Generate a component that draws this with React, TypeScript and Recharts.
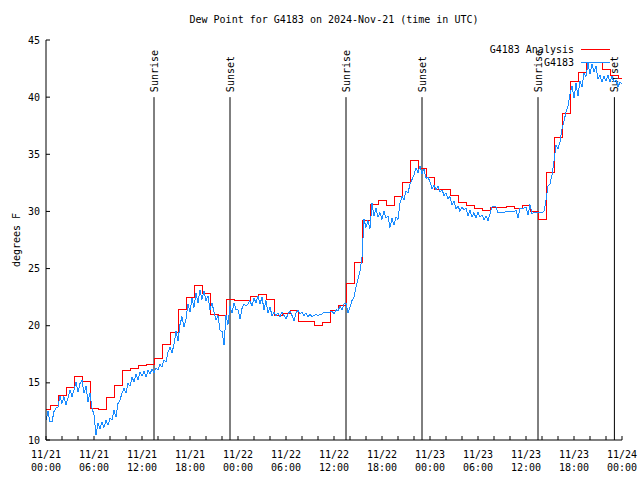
import { Line, LineChart, ReferenceLine, XAxis, YAxis } from "recharts";

// hours since 2024-11-21 00:00 UTC, one blue reading every 15 min
const obs0to12 = [
  11.75, 12.5, 11.6, 11.6, 12.5, 12.8, 12.9, 13.85, 13.2, 13.8, 13.1, 13.65,
  14.4, 13.8, 14.4, 15.1, 14.2, 14.95, 15.25, 14.1, 14.7, 13.35, 14.1, 12.8,
  12.2, 10.4, 11.45, 11.0, 11.6, 11.1, 11.75, 11.3, 11.9, 11.75, 12.6, 12.0,
  13.2, 13.5, 14.1, 14.5, 14.1, 14.95, 14.7, 15.5, 15.1, 15.8, 15.25, 15.98,
];
const obs12to24 = [
  15.6, 16.0, 15.5, 16.1, 15.8, 16.2, 15.9, 16.3, 16.1, 16.6, 16.4, 17.0,
  16.8, 17.7, 18.1, 17.6, 18.4, 19.5, 18.7, 20.1, 20.8, 19.9, 20.6, 21.9,
  21.2, 22.4, 21.6, 22.9, 22.0, 23.1, 22.3, 23.0, 22.2, 22.6, 21.4, 22.0,
  21.2, 20.5, 20.9, 19.6, 19.5, 18.3, 20.9, 20.1, 21.7, 21.1, 22.0, 21.4,
];
const obs24to36 = [
  21.4, 20.6, 21.5, 21.9, 21.7, 21.9, 22.2, 21.7, 22.4, 22.0, 22.6, 21.9,
  22.5, 21.4, 22.2, 21.1, 21.6, 20.9, 21.2, 20.9, 21.1, 20.8, 21.2, 20.9,
  20.6, 21.0, 21.3, 20.9, 20.4, 21.1, 21.4, 21.0, 21.2, 20.9, 21.1, 20.8,
  21.0, 20.8, 20.9, 21.0, 20.9, 21.0, 21.0, 21.2, 21.1, 21.2, 21.2, 21.3,
];
const obs36to48 = [
  21.0, 21.4, 21.3, 21.7, 21.4, 21.9, 22.0, 21.1, 21.6, 22.2, 22.5, 23.4,
  24.1, 24.8, 26.0, 29.3, 28.6, 29.2, 28.5, 30.7, 29.6, 30.3, 29.5, 29.9,
  29.3, 30.0, 29.4, 29.6, 28.6, 29.4, 28.8, 29.5, 29.3, 30.7, 31.3, 31.0,
  31.8, 31.6, 32.4, 32.8, 33.2, 33.8, 33.4, 34.0, 33.3, 33.7, 32.9, 33.0,
];
const obs48to60 = [
  32.6, 32.0, 32.3, 31.9, 32.2, 31.7, 31.9, 31.4, 31.6, 31.1, 31.3, 30.6,
  30.9, 30.2, 30.5, 30.0, 30.4, 30.1, 30.3, 29.6, 30.1, 29.5, 29.9, 29.4,
  29.9, 29.5, 29.7, 29.3, 29.6, 29.2, 29.8, 30.4, 30.4, 30.4, 29.9, 29.9,
  29.9, 29.9, 30.0, 30.0, 30.0, 30.0, 30.0, 30.1, 29.4, 30.3, 30.3, 30.3,
];
const obs60to72 = [
  30.4, 29.7, 30.6, 29.8, 29.9, 29.9, 29.9, 29.9, 29.9, 30.0, 31.0, 32.2,
  32.4, 33.2, 34.4, 35.8, 35.5, 36.1, 37.2, 37.9, 38.7, 39.2, 40.3, 41.0,
  39.9, 41.2, 40.1, 41.4, 40.9, 42.1, 41.8, 43.0, 42.0, 42.9, 42.2, 42.7,
  41.6, 41.9, 41.3, 41.8, 41.4, 41.9, 41.3, 41.8, 41.3, 41.5, 40.9, 41.3,
  41.2,
];

// hourly analysis values (step line)
const analysis = [
  12.7, 13.0, 13.9, 14.6, 15.6, 15.1, 12.8, 12.7, 13.7, 14.8, 16.1, 16.3,
  16.5, 16.6, 17.1, 18.4, 19.4, 21.4, 22.5, 23.5, 22.8, 21.0, 20.9, 22.3,
  22.2, 22.2, 22.6, 22.75, 22.3, 20.9, 21.1, 21.3, 20.35, 20.35, 20.0, 20.3,
  21.3, 21.8, 23.7, 25.5, 29.25, 30.6, 31.0, 30.5, 31.3, 32.5, 34.5, 33.8,
  33.0, 31.9, 31.9, 31.4, 30.8, 30.55, 30.3, 30.05, 30.35, 30.35, 30.4, 30.3,
  30.5, 30.0, 29.3, 33.4, 36.5, 38.6, 41.4, 42.2, 43.0, 43.0, 42.4, 41.9,
  41.6,
];

const sunrises = [13.5, 37.5, 61.5];
const sunsets = [23.0, 47.0, 71.05];

const xTicks = [
  0, 2, 4, 6, 8, 10, 12, 14, 16, 18, 20, 22, 24, 26, 28, 30, 32, 34, 36, 38,
  40, 42, 44, 46, 48, 50, 52, 54, 56, 58, 60, 62, 64, 66, 68, 70, 72,
];
const yTicks = [10, 15, 20, 25, 30, 35, 40, 45];
const dayLabels = ["11/21", "11/22", "11/23", "11/24"];

const FONT = "'DejaVu Sans Mono', monospace";

const obsData = [
  ...obs0to12,
  ...obs12to24,
  ...obs24to36,
  ...obs36to48,
  ...obs48to60,
  ...obs60to72,
].map((v, i) => ({ t: i * 0.25, v }));

const analysisData = analysis.map((v, i) => ({ t: i === 0 ? 0 : i - 0.4, v }));
analysisData.push({ t: 72, v: analysis[analysis.length - 1] });

function TimeTick(props: any) {
  const { x, y, payload } = props;
  const h = payload.value as number;
  if (h % 6 !== 0) return null;
  const day = dayLabels[Math.floor(h / 24)];
  const hh = String(h % 24).padStart(2, "0");
  return (
    <text x={x} y={y + 22} textAnchor="middle" fontFamily={FONT} fontSize={10} fill="#000">
      <tspan x={x}>{day}</tspan>
      <tspan x={x} dy={12.5}>{`${hh}:00`}</tspan>
    </text>
  );
}

function SunLabel(props: any) {
  const { viewBox, text } = props;
  const x = viewBox.x + 4;
  const y = viewBox.y - 5;
  return (
    <text
      x={x}
      y={y}
      transform={`rotate(-90 ${x} ${y})`}
      fontFamily={FONT}
      fontSize={10}
      fill="#000"
    >
      {text}
    </text>
  );
}

export default function App() {
  const sunLines = [
    ...sunrises.map((t) => ({ t, text: "Sunrise" })),
    ...sunsets.map((t) => ({ t, text: "Sunset" })),
  ];

  return (
    <div
      style={{
        position: "absolute",
        left: 0,
        top: 0,
        width: 640,
        height: 480,
        background: "#fff",
        fontFamily: FONT,
        fontSize: 10,
        color: "#000",
      }}
    >
      <div style={{ position: "absolute", left: 46, top: 14, width: 576, textAlign: "center", lineHeight: "12px" }}>
        Dew Point for G4183 on 2024-Nov-21 (time in UTC)
      </div>
      <div
        style={{
          position: "absolute",
          left: 17,
          top: 240,
          whiteSpace: "nowrap",
          lineHeight: "12px",
          transform: "translate(-50%, -50%) rotate(-90deg)",
        }}
      >
        degrees F
      </div>

      <LineChart width={640} height={480} margin={{ top: 40, right: 18, bottom: 0, left: 0 }}>
        <XAxis
          dataKey="t"
          type="number"
          domain={[0, 72]}
          ticks={xTicks}
          interval={0}
          height={40}
          tickSize={-4}
          tickMargin={0}
          tick={<TimeTick />}
          axisLine={{ stroke: "#000" }}
          tickLine={{ stroke: "#000" }}
        />
        <XAxis
          xAxisId="top"
          orientation="top"
          type="number"
          domain={[0, 72]}
          ticks={xTicks}
          interval={0}
          height={0}
          tickSize={-4}
          tick={false}
          axisLine={{ stroke: "#000" }}
          tickLine={{ stroke: "#000" }}
        />
        <YAxis
          type="number"
          domain={[10, 45]}
          ticks={yTicks}
          interval={0}
          width={46}
          tickSize={-4}
          tickMargin={10}
          tick={{ fontFamily: FONT, fontSize: 10, fill: "#000" }}
          axisLine={{ stroke: "#000" }}
          tickLine={{ stroke: "#000" }}
        />
        <YAxis
          yAxisId="right"
          orientation="right"
          type="number"
          domain={[10, 45]}
          ticks={yTicks}
          interval={0}
          width={0}
          tickSize={-4}
          tick={false}
          axisLine={{ stroke: "#000" }}
          tickLine={{ stroke: "#000" }}
        />

        {sunLines.map((s) => (
          <ReferenceLine
            key={`${s.text}-${s.t}`}
            segment={[
              { x: s.t, y: 10 },
              { x: s.t, y: 40 },
            ]}
            stroke="#000"
            strokeWidth={1}
            label={<SunLabel text={s.text} />}
          />
        ))}

        <Line
          data={analysisData}
          dataKey="v"
          type="stepAfter"
          stroke="#ff0000"
          strokeWidth={1}
          dot={false}
          isAnimationActive={false}
          style={{ shapeRendering: "crispEdges" }}
        />
        <Line
          data={obsData}
          dataKey="v"
          type="linear"
          stroke="#1a8cff"
          strokeWidth={1}
          dot={false}
          isAnimationActive={false}
          style={{ shapeRendering: "crispEdges" }}
        />
      </LineChart>

      <div style={{ position: "absolute", left: 440, top: 43, width: 134, textAlign: "right", lineHeight: "13px" }}>
        <div>G4183 Analysis</div>
        <div>G4183</div>
      </div>
      <svg style={{ position: "absolute", left: 580, top: 43 }} width={31} height={26}>
        <line x1={1} x2={30} y1={6.5} y2={6.5} stroke="#ff0000" />
        <line x1={1} x2={30} y1={19.5} y2={19.5} stroke="#1a8cff" />
      </svg>
    </div>
  );
}
